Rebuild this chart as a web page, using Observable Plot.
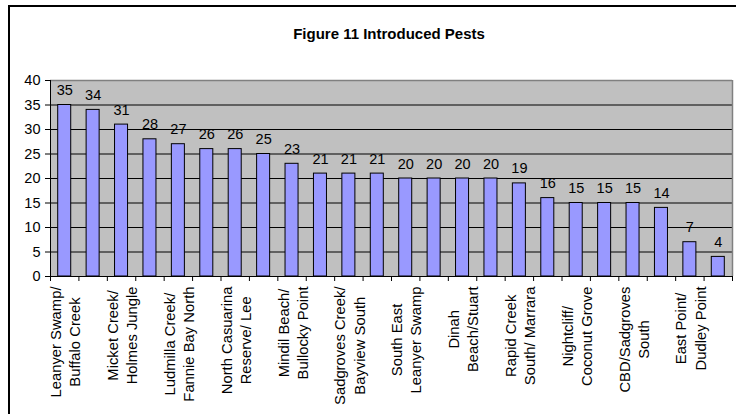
<!DOCTYPE html>
<html><head><meta charset="utf-8">
<script src="https://cdn.jsdelivr.net/npm/d3@7"></script>
<script src="https://cdn.jsdelivr.net/npm/@observablehq/plot@0.6"></script>
<style>
body{margin:0;background:#fff;}
#wrap{position:relative;width:736px;height:414px;overflow:hidden;}
#chart{position:absolute;left:0;top:0;}
#border{position:absolute;left:8px;top:5px;width:800px;height:500px;border-left:2px solid #000;border-top:2px solid #000;pointer-events:none;}
</style>
</head><body>
<div id="wrap"><div id="chart"></div><div id="border"></div></div>
<script>
const title = "Figure 11 Introduced Pests";
// 24 sites, values (Excel shows a name under every other bar)
const values = [35,34,31,28,27,26,26,25,23,21,21,21,20,20,20,20,19,16,15,15,15,14,7,4];
const tickLabels = [
  "Leanyer Swamp/\nBuffalo Creek",
  "Micket Creek/\nHolmes Jungle",
  "Ludmilla Creek/\nFannie Bay North",
  "North Casuarina\nReserve/ Lee",
  "Mindil Beach/\nBullocky Point",
  "Sadgroves Creek/\nBayview South",
  "South East\nLeanyer Swamp",
  "Dinah\nBeach/Stuart",
  "Rapid Creek\nSouth/ Marrara",
  "Nightcliff/\nCoconut Grove",
  "CBD/Sadgroves\nSouth",
  "East Point/\nDudley Point"
];
const labelEvery = 2;
const yTicks = [0,5,10,15,20,25,30,35,40];

const data = values.map((v, i) => ({i, v}));
const n = values.length;

const labelFont = 14.8;
const ctx = document.createElement("canvas").getContext("2d");
ctx.font = labelFont + "px 'Liberation Sans'";
const labelMarks = tickLabels.map((t, k) => {
  const w = Math.max(...t.split("\n").map(s => ctx.measureText(s).width));
  return Plot.text([t], {
    x: () => k * labelEvery + 0.5, y: () => 0, text: d => d,
    rotate: -90, textAnchor: "middle", lineAnchor: "middle", lineHeight: 1.3,
    dy: 10 + w / 2, fontSize: labelFont, fill: "#000"
  });
});

const chart = Plot.plot({
  width: 736, height: 414,
  marginLeft: 50, marginRight: 4, marginTop: 80, marginBottom: 138,
  style: {fontFamily: "'Liberation Sans', Arial, sans-serif", fontSize: "14px", color: "#000", background: "transparent", overflow: "visible"},
  x: {type: "linear", domain: [0, n], axis: null},
  y: {domain: [0, 40], axis: null},
  marks: [
    Plot.frame({fill: "#c0c0c0", stroke: null}),
    Plot.ruleY(yTicks.filter(t => t > 0 && t < 40), {stroke: "#000", strokeWidth: 1}),
    Plot.ruleY([40], {stroke: "#808080", strokeWidth: 1.5}),
    Plot.ruleX([n], {stroke: "#808080", strokeWidth: 1.5}),
    Plot.rectY(data, {x1: d => d.i, x2: d => d.i + 1, y: "v", insetLeft: 7.7, insetRight: 7.7, fill: "#9999ff", stroke: "#000", strokeWidth: 1}),
    Plot.ruleX([0], {stroke: "#000"}),
    Plot.ruleY([0], {stroke: "#000"}),
    Plot.axisY({ticks: yTicks, tickSize: 5, tickPadding: 5, fontSize: 14.5, label: null, stroke: "#000", fill: "#000"}),
    Plot.axisX({ticks: d3.range(n + 1), tickSize: 5, tickFormat: () => "", label: null, stroke: "#000"}),
    Plot.text(data, {x: d => d.i + 0.5, y: "v", text: d => String(d.v), dy: -10, lineAnchor: "bottom", fontSize: 14.5, fill: "#000"}),
    ...labelMarks,
    Plot.text([title], {frameAnchor: "top", text: d => d, dy: -42, dx: -2.5, lineAnchor: "bottom", fontWeight: "bold", fontSize: 15, fill: "#000"})
  ]
});
document.getElementById("chart").appendChild(chart);
</script>
</body></html>
